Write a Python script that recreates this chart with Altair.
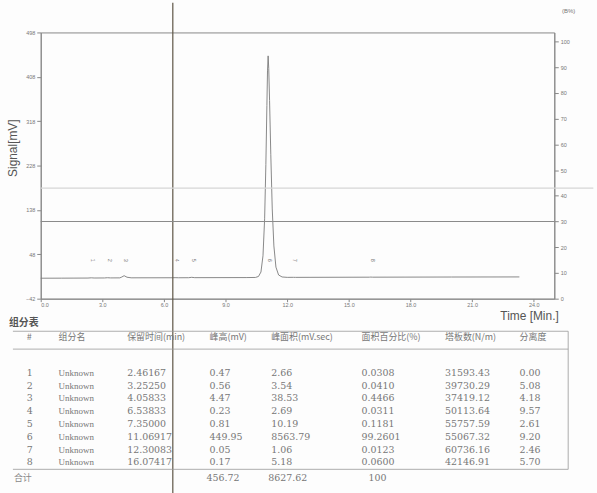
import altair as alt
import pandas as pd

# ---- chromatogram trace: time (min) / detector signal (mV) ----
trace_time = [0.0, 1.0, 2.3, 2.46, 2.6, 3.1, 3.25, 3.4, 3.85, 3.95, 4.06, 4.2, 4.4,
              6.4, 6.54, 6.7, 7.2, 7.35, 7.5, 10.0, 10.45, 10.6, 10.72, 10.82, 10.9,
              10.96, 11.01, 11.04, 11.07, 11.1, 11.14, 11.2, 11.27, 11.35, 11.45,
              11.58, 11.75, 12.0, 12.3, 12.4, 16.0, 16.07, 16.15, 20.0, 23.3]
trace_mv = [-0.5, -0.4, -0.2, 0.3, -0.1, 0.0, 0.5, 0.1, 0.2, 2.0, 4.6, 1.5, 0.3,
            0.4, 0.6, 0.4, 0.5, 1.3, 0.6, 0.8, 1.0, 3.0, 12.0, 45.0, 120.0,
            230.0, 350.0, 420.0, 450.5, 425.0, 360.0, 250.0, 140.0, 65.0, 22.0,
            6.0, 2.0, 1.2, 1.3, 1.2, 1.6, 1.8, 1.6, 1.9, 2.1]

# mobile-phase B programme (%)
gradient_time = [0.0, 25.0]
gradient_pct = [30.0, 30.0]

# faint guide level (%) and cursor position (min)
guide_time = [0.0, 26.9]
guide_pct = [43.0, 43.0]
cursor_time = 6.43

# axis ticks
time_ticks = [0, 1.5, 3, 4.5, 6, 7.5, 9, 10.5, 12, 13.5, 15, 16.5, 18, 19.5, 21, 22.5, 24]
mv_ticks = [-42, 48, 138, 228, 318, 408, 498]
pct_ticks = [0, 10, 20, 30, 40, 50, 60, 70, 80, 90, 100]

# ---- peak table ----
peak_no = [1, 2, 3, 4, 5, 6, 7, 8]
peak_name = ["Unknown"] * 8
ret_time = [2.46167, 3.25250, 4.05833, 6.53833, 7.35000, 11.06917, 12.30083, 16.07417]
peak_height = [0.47, 0.56, 4.47, 0.23, 0.81, 449.95, 0.05, 0.17]
peak_area = [2.66, 3.54, 38.53, 2.69, 10.19, 8563.79, 1.06, 5.18]
area_pct = [0.0308, 0.0410, 0.4466, 0.0311, 0.1181, 99.2601, 0.0123, 0.0600]
plates = [31593.43, 39730.29, 37419.12, 50113.64, 55757.59, 55067.32, 60736.16, 42146.91]
resolution = [0.00, 5.08, 4.18, 9.57, 2.61, 9.20, 2.46, 5.70]
total_height = 456.72
total_area = 8627.62
total_pct = 100

headers = ["#", "组分名", "保留时间(min)", "峰高(mV)", "峰面积(mV.sec)",
           "面积百分比(%)", "塔板数(N/m)", "分离度"]

W, H = 517, 268
GRAY = "#888"

x_scale = alt.Scale(domain=[0, 25], nice=False, zero=False)
mv_scale = alt.Scale(domain=[-42, 498], nice=False, zero=False)
pct_scale = alt.Scale(domain=[0, 103.5], nice=False, zero=False)

x_axis = alt.Axis(
    values=time_ticks,
    labelExpr="datum.value % 3 == 0 ? format(datum.value, '.1f') : ''",
    labelFontSize=5.5, labelPadding=1, tickSize=3,
    title="Time [Min.]", titleFontSize=12, titleFontWeight="normal",
    titleColor="#555", titleAlign="right", titleAnchor="end",
    titleX=521, titleY=21, titleBaseline="alphabetic",
)
mv_axis = alt.Axis(
    values=mv_ticks, labelFontSize=5.5, labelPadding=2, tickSize=4,
    title="Signal[mV]", titleFontSize=12, titleFontWeight="normal",
    titleColor="#555", titleAngle=270, titleAlign="center",
    titleBaseline="middle", titleX=-28, titleY=116,
)
pct_axis = alt.Axis(
    orient="right", values=pct_ticks, labelFontSize=5.5, labelPadding=2,
    tickSize=4, title="(B%)", titleFontSize=6, titleFontWeight="normal",
    titleColor="#777", titleAngle=0, titleAlign="center",
    titleBaseline="middle", titleX=14, titleY=-22,
)

trace_df = pd.DataFrame({"t": trace_time, "mv": trace_mv})
signal = alt.Chart(trace_df).mark_line(color="#7a7a7a", strokeWidth=0.9).encode(
    x=alt.X("t:Q", scale=x_scale, axis=x_axis),
    y=alt.Y("mv:Q", scale=mv_scale, axis=mv_axis),
)

label_df = pd.DataFrame({"t": ret_time, "no": [str(n) for n in peak_no]})
peak_labels = alt.Chart(label_df).mark_text(
    angle=90, fontSize=5.5, color="#777", dy=-2, font="Liberation Sans"
).encode(
    x=alt.X("t:Q", scale=x_scale),
    y=alt.datum(36),
    text="no:N",
)

cursor = alt.Chart(pd.DataFrame({"t": [cursor_time]})).mark_rule(
    color="#5e5545", strokeWidth=1.2
).encode(
    x=alt.X("t:Q", scale=x_scale),
    y=alt.datum(558),
    y2=alt.datum(-440),
)

grad_df = pd.DataFrame({"t": gradient_time, "pct": gradient_pct})
gradient = alt.Chart(grad_df).mark_line(color="#8a8a8a", strokeWidth=1).encode(
    x=alt.X("t:Q", scale=x_scale),
    y=alt.Y("pct:Q", scale=pct_scale, axis=pct_axis),
)
guide_df = pd.DataFrame({"t": guide_time, "pct": guide_pct})
guide = alt.Chart(guide_df).mark_line(color="#d6d6d6", strokeWidth=1.2).encode(
    x=alt.X("t:Q", scale=x_scale),
    y=alt.Y("pct:Q", scale=pct_scale, axis=pct_axis),
)

top = alt.layer(
    alt.layer(signal, peak_labels, cursor),
    alt.layer(guide, gradient),
).resolve_scale(y="independent").properties(width=W, height=H)

# ---- peak table chart (rows on a line-slot scale) ----
row_scale = alt.Scale(domain=[-3.5, 10.2], nice=False, zero=False, reverse=True)
TABLE_H = 176
col_x = [-14, 18, 87, 170, 232, 323, 407, 482]

body_cols = [
    [str(n) for n in peak_no],
    peak_name,
    [f"{v:.5f}" for v in ret_time],
    [f"{v:.2f}" for v in peak_height],
    [f"{v:.2f}" for v in peak_area],
    [f"{v:.4f}" for v in area_pct],
    [f"{v:.2f}" for v in plates],
    [f"{v:.2f}" for v in resolution],
]

table_layers = []

# borders
hline_df = pd.DataFrame({"pos": [-2.27, -0.87, 8.55]})
table_layers.append(
    alt.Chart(hline_df).mark_rule(color="#999", strokeWidth=0.8).encode(
        x=alt.value(-28), x2=alt.value(531),
        y=alt.Y("pos:Q", scale=row_scale, axis=None),
    )
)
table_layers.append(
    alt.Chart(pd.DataFrame({"a": [-2.27], "b": [8.55]})).mark_rule(
        color="#999", strokeWidth=0.8
    ).encode(
        x=alt.value(531),
        y=alt.Y("a:Q", scale=row_scale, axis=None),
        y2="b:Q",
    )
)

# table caption and total label
cap_df = pd.DataFrame({"pos": [-2.89], "txt": ["组分表"]})
table_layers.append(
    alt.Chart(cap_df).mark_text(
        align="left", baseline="middle", font="Noto Sans CJK SC",
        fontSize=10, fontWeight="bold", color="#555"
    ).encode(x=alt.value(-32), y=alt.Y("pos:Q", scale=row_scale, axis=None), text="txt:N")
)
sum_df = pd.DataFrame({"pos": [9.25], "txt": ["合计"]})
table_layers.append(
    alt.Chart(sum_df).mark_text(
        align="left", baseline="middle", font="Noto Sans CJK SC",
        fontSize=9, color="#888"
    ).encode(x=alt.value(-27), y=alt.Y("pos:Q", scale=row_scale, axis=None), text="txt:N")
)

for i, (hdr, cx, vals) in enumerate(zip(headers, col_x, body_cols)):
    hdf = pd.DataFrame({"pos": [-1.79], "txt": [hdr]})
    table_layers.append(
        alt.Chart(hdf).mark_text(
            align="left", baseline="middle", font="Noto Sans CJK SC",
            fontSize=9, color="#777"
        ).encode(x=alt.value(cx), y=alt.Y("pos:Q", scale=row_scale, axis=None), text="txt:N")
    )
    bdf = pd.DataFrame({"pos": peak_no, "txt": vals})
    is_name = i == 1
    table_layers.append(
        alt.Chart(bdf).mark_text(
            align="left", baseline="middle",
            font="Liberation Serif" if is_name else "DejaVu Serif",
            fontSize=9 if is_name else 9.5, color="#777"
        ).encode(x=alt.value(cx), y=alt.Y("pos:Q", scale=row_scale, axis=None), text="txt:N")
    )

tot_df = pd.DataFrame({
    "pos": [9.25, 9.25, 9.25],
    "txt": [f"{total_height:.2f}", f"{total_area:.2f}", f"{total_pct}"],
})
for j, cx in enumerate([167, 229, 330]):
    table_layers.append(
        alt.Chart(tot_df.iloc[[j]]).mark_text(
            align="left", baseline="middle", font="DejaVu Serif",
            fontSize=9.5, color="#777"
        ).encode(x=alt.value(cx), y=alt.Y("pos:Q", scale=row_scale, axis=None), text="txt:N")
    )

table = alt.layer(*table_layers).properties(
    width=W, height=TABLE_H,
    view=alt.ViewBackground(stroke="transparent"),
)

chart = alt.vconcat(top, table, spacing=17, bounds="flush").properties(
    padding={"left": 6, "top": 0, "right": 0, "bottom": 0},
    background="#fdfdfd",
).configure_axis(
    labelFont="Liberation Sans", titleFont="Liberation Sans",
    domainColor=GRAY, tickColor=GRAY, labelColor="#777", grid=False,
).configure_view(stroke=GRAY)

chart.save("out.html", embed_options={"renderer": "svg", "actions": False})
